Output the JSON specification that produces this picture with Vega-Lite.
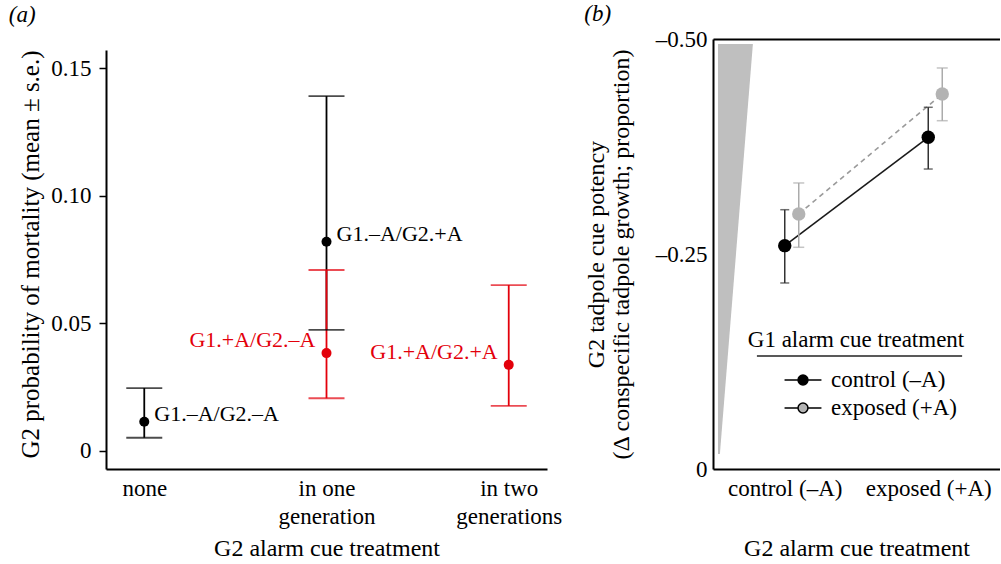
{
  "$schema": "https://vega.github.io/schema/vega-lite/v6.json",
  "padding": {"left": 8, "top": 3, "right": 0, "bottom": 0},
  "background": "white",
  "datasets": {
    "mort": [
      {"g2": "none", "g1": "control", "label": "G1.–A/G2.–A", "mean": 0.0113, "lo": 0.0050, "hi": 0.0245},
      {"g2": "in one generation", "g1": "control", "label": "G1.–A/G2.+A", "mean": 0.0819, "lo": 0.0473, "hi": 0.1390},
      {"g2": "in one generation", "g1": "exposed", "label": "G1.+A/G2.–A", "mean": 0.0382, "lo": 0.0205, "hi": 0.0708},
      {"g2": "in two generations", "g1": "exposed", "label": "G1.+A/G2.+A", "mean": 0.0336, "lo": 0.0175, "hi": 0.0649}
    ],
    "pot": [
      {"g2": "control (–A)", "g1": "control (–A)", "mean": -0.2597, "lo": -0.3015, "hi": -0.2163},
      {"g2": "exposed (+A)", "g1": "control (–A)", "mean": -0.3857, "lo": -0.4206, "hi": -0.3488},
      {"g2": "control (–A)", "g1": "exposed (+A)", "mean": -0.2965, "lo": -0.3326, "hi": -0.2578},
      {"g2": "exposed (+A)", "g1": "exposed (+A)", "mean": -0.4360, "lo": -0.4663, "hi": -0.4050}
    ],
    "wedge": [
      {"depth": -0.4942, "edge": 0.139, "base": 0.0174},
      {"depth": -0.0174, "edge": 0.024, "base": 0.0174}
    ],
    "underline": [
      {"depth": -0.1314, "from": 0.153, "to": 0.868}
    ]
  },
  "hconcat": [
    {
      "title": {"text": "(a)", "anchor": "start", "frame": "bounds", "fontStyle": "italic", "dx": -10, "offset": 12},
      "width": 441,
      "height": 430,
      "data": {"name": "mort"},
      "encoding": {
        "x": {
          "field": "g2", "type": "nominal",
          "scale": {"type": "point", "padding": 0.21, "domain": ["none", "in one generation", "in two generations"]},
          "axis": {
            "title": "G2 alarm cue treatment",
            "labelAngle": 0, "ticks": false, "labelPadding": 8, "labelLineHeight": 28, "labelBaseline": "top",
            "titlePadding": 8, "domainWidth": 2,
            "labelExpr": "datum.label == 'in one generation' ? ['in one', 'generation'] : datum.label == 'in two generations' ? ['in two', 'generations'] : datum.label"
          }
        },
        "color": {
          "field": "g1", "type": "nominal",
          "scale": {"domain": ["control", "exposed"], "range": ["#000000", "#e3000b"]},
          "legend": null
        }
      },
      "layer": [
        {
          "mark": {"type": "rule", "strokeWidth": 1.8},
          "encoding": {
            "y": {
              "field": "lo", "type": "quantitative",
              "scale": {"domain": [-0.00725, 0.1614], "nice": false, "zero": false},
              "axis": {
                "title": "G2 probability of mortality (mean ± s.e.)",
                "titleFontSize": 25,
                "values": [0, 0.05, 0.1, 0.15],
                "labelExpr": "datum.value == 0 ? '0' : format(datum.value, '.2f')",
                "tickSize": 7, "tickWidth": 1.5, "domainWidth": 2, "domainDash": [419, 40],
                "labelPadding": 8, "titlePadding": 7
              }
            },
            "y2": {"field": "hi"}
          }
        },
        {
          "mark": {"type": "tick", "size": 36, "thickness": 1.8},
          "encoding": {"y": {"field": "lo", "type": "quantitative"}}
        },
        {
          "mark": {"type": "tick", "size": 36, "thickness": 1.8},
          "encoding": {"y": {"field": "hi", "type": "quantitative"}}
        },
        {
          "mark": {"type": "point", "filled": true, "size": 100, "opacity": 1},
          "encoding": {"y": {"field": "mean", "type": "quantitative"}}
        },
        {
          "transform": [{"filter": "datum.g1 == 'control'"}],
          "mark": {"type": "text", "align": "left", "baseline": "middle", "dx": 10, "dy": -8, "fontSize": 22},
          "encoding": {"y": {"field": "mean", "type": "quantitative"}, "text": {"field": "label"}}
        },
        {
          "transform": [{"filter": "datum.g1 == 'exposed'"}],
          "mark": {"type": "text", "align": "right", "baseline": "middle", "dx": -11, "dy": -13, "fontSize": 22},
          "encoding": {"y": {"field": "mean", "type": "quantitative"}, "text": {"field": "label"}}
        }
      ]
    },
    {
      "title": {"text": "(b)", "anchor": "start", "frame": "bounds", "fontStyle": "italic", "offset": 2},
      "width": 287,
      "height": 430,
      "layer": [
        {
          "layer": [
            {
              "data": {"name": "wedge"},
              "mark": {"type": "area", "orient": "horizontal", "color": "#bfbfbf"},
              "encoding": {
                "y": {
                  "field": "depth", "type": "quantitative",
                  "scale": {"domain": [-0.5, 0], "reverse": true, "nice": false, "zero": false},
                  "axis": {
                    "title": ["G2 tadpole cue potency", "(Δ conspecific tadpole growth; proportion)"],
                    "values": [-0.5, -0.25, 0],
                    "labelExpr": "datum.value == 0 ? '0' : '–' + format(-datum.value, '.2f')",
                    "ticks": false, "domainWidth": 2, "labelPadding": 6, "titlePadding": 22, "titleLineHeight": 25
                  }
                },
                "x": {
                  "field": "edge", "type": "quantitative",
                  "scale": {"domain": [0, 1], "nice": false, "zero": false},
                  "axis": {"orient": "top", "labels": false, "ticks": false, "title": null, "domainWidth": 2, "grid": false}
                },
                "x2": {"field": "base"}
              }
            },
            {
              "data": {"name": "underline"},
              "mark": {"type": "rule", "color": "#222222", "strokeWidth": 1.5},
              "encoding": {
                "y": {"field": "depth", "type": "quantitative"},
                "x": {"field": "from", "type": "quantitative"},
                "x2": {"field": "to"}
              }
            }
          ]
        },
        {
          "data": {"name": "pot"},
          "encoding": {
            "x": {
              "field": "g2", "type": "nominal",
              "scale": {"type": "point", "padding": 0.5, "domain": ["control (–A)", "exposed (+A)"]},
              "axis": {"title": "G2 alarm cue treatment", "labelAngle": 0, "ticks": false, "labelPadding": 8, "labelBaseline": "top", "titlePadding": 36, "domainWidth": 2}
            }
          },
          "layer": [
            {
              "transform": [{"filter": "datum.g1 == 'control (–A)'"}],
              "mark": {"type": "line", "color": "#1a1a1a", "strokeWidth": 1.6},
              "encoding": {"y": {"field": "mean", "type": "quantitative"}}
            },
            {
              "transform": [{"filter": "datum.g1 == 'exposed (+A)'"}],
              "mark": {"type": "line", "color": "#9a9a9a", "strokeWidth": 1.6, "strokeDash": [5, 4], "xOffset": 14},
              "encoding": {"y": {"field": "mean", "type": "quantitative"}}
            },
            {
              "transform": [{"filter": "datum.g1 == 'control (–A)'"}],
              "mark": {"type": "rule", "color": "#333333", "strokeWidth": 1.5},
              "encoding": {"y": {"field": "lo", "type": "quantitative"}, "y2": {"field": "hi"}}
            },
            {
              "transform": [{"filter": "datum.g1 == 'control (–A)'"}],
              "mark": {"type": "tick", "color": "#333333", "size": 9, "thickness": 1.5},
              "encoding": {"y": {"field": "lo", "type": "quantitative"}}
            },
            {
              "transform": [{"filter": "datum.g1 == 'control (–A)'"}],
              "mark": {"type": "tick", "color": "#333333", "size": 9, "thickness": 1.5},
              "encoding": {"y": {"field": "hi", "type": "quantitative"}}
            },
            {
              "transform": [{"filter": "datum.g1 == 'exposed (+A)'"}],
              "mark": {"type": "rule", "color": "#ababab", "strokeWidth": 1.5, "xOffset": 14},
              "encoding": {"y": {"field": "lo", "type": "quantitative"}, "y2": {"field": "hi"}}
            },
            {
              "transform": [{"filter": "datum.g1 == 'exposed (+A)'"}],
              "mark": {"type": "tick", "color": "#ababab", "size": 11, "thickness": 1.5, "xOffset": 14},
              "encoding": {"y": {"field": "lo", "type": "quantitative"}}
            },
            {
              "transform": [{"filter": "datum.g1 == 'exposed (+A)'"}],
              "mark": {"type": "tick", "color": "#ababab", "size": 11, "thickness": 1.5, "xOffset": 14},
              "encoding": {"y": {"field": "hi", "type": "quantitative"}}
            },
            {
              "transform": [{"filter": "datum.g1 == 'control (–A)'"}],
              "mark": {"type": "point", "filled": true, "size": 180, "opacity": 1},
              "encoding": {
                "y": {"field": "mean", "type": "quantitative"},
                "color": {
                  "field": "g1", "type": "nominal",
                  "scale": {"domain": ["control (–A)", "exposed (+A)"], "range": ["#000000", "#b3b3b3"]},
                  "legend": {
                    "title": "G1 alarm cue treatment", "orient": "none", "legendX": 35, "legendY": 290,
                    "titleAnchor": "middle", "titlePadding": 12, "titleLimit": 500, "labelLimit": 300, "padding": 0, "rowPadding": 0,
                    "symbolType": "M-1.23,0H-0.33M0.33,0H1.23M0.33,0A0.33,0.33,0,1,1,-0.33,0A0.33,0.33,0,1,1,0.33,0Z",
                    "symbolSize": 900, "symbolStrokeWidth": 1.5, "symbolStrokeColor": "#000000", "symbolOffset": 33, "labelOffset": 12,
                    "encode": {
                      "symbols": {
                        "enter": {
                          "stroke": {"signal": "datum.value == 'exposed (+A)' ? '#ababab' : '#000000'"},
                          "strokeWidth": {"value": 1.5}
                        },
                        "update": {
                          "shape": {"value": "M-1.23,0H-0.33M0.33,0H1.23M0.33,0A0.33,0.33,0,1,1,-0.33,0A0.33,0.33,0,1,1,0.33,0Z"},
                          "size": {"value": 900},
                          "strokeWidth": {"value": 1.5},
                          "stroke": {"signal": "datum.value == 'exposed (+A)' ? '#ababab' : '#000000'"},
                          "strokeOpacity": {"value": 1},
                          "fill": {"signal": "datum.value == 'exposed (+A)' ? '#b3b3b3' : '#000000'"},
                          "strokeDash": [
                            {"test": "datum.value == 'exposed (+A)'", "value": [3, 3]},
                            {"value": [1, 0]}
                          ],
                          "opacity": {"value": 1}
                        }
                      }
                    }
                  }
                }
              }
            },
            {
              "transform": [{"filter": "datum.g1 == 'exposed (+A)'"}],
              "mark": {"type": "point", "filled": true, "size": 180, "opacity": 1, "xOffset": 14, "color": "#b3b3b3"},
              "encoding": {
                "y": {"field": "mean", "type": "quantitative"}
              }
            }
          ]
        }
      ],
      "resolve": {"scale": {"x": "independent"}, "axis": {"x": "independent"}}
    }
  ],
  "spacing": 22,
  "resolve": {"scale": {"x": "independent", "y": "independent", "color": "independent"}, "legend": {"color": "independent"}},
  "config": {
    "font": "Liberation Serif",
    "view": {"stroke": null},
    "title": {"font": "Liberation Serif", "fontSize": 23, "fontWeight": "normal", "color": "black"},
    "axis": {
      "labelFont": "Liberation Serif", "titleFont": "Liberation Serif",
      "labelFontSize": 23, "titleFontSize": 24, "titleFontWeight": "normal",
      "labelColor": "black", "titleColor": "black", "domainColor": "black", "tickColor": "black", "grid": false
    },
    "legend": {
      "labelFont": "Liberation Serif", "titleFont": "Liberation Serif",
      "labelFontSize": 23, "titleFontSize": 23, "titleFontWeight": "normal",
      "labelColor": "black", "titleColor": "black"
    },
    "text": {"font": "Liberation Serif"}
  }
}
